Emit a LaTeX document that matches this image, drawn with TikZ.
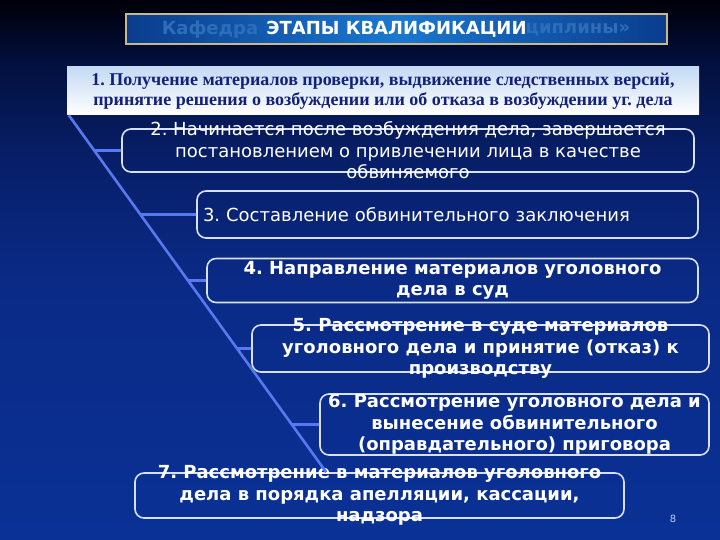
\documentclass[tikz,border=0pt]{standalone}
\usepackage{fontspec}
\setmainfont{DejaVu Sans}
\newfontfamily\headfont{Liberation Serif}
\usetikzlibrary{calc}
\definecolor{BgTop}{HTML}{00000A}
\definecolor{BgDark}{HTML}{03103E}
\definecolor{BgNavy}{HTML}{071E66}
\definecolor{BgMid}{HTML}{0A2A86}
\definecolor{BgLow}{HTML}{0A3196}
\definecolor{TitleGold}{HTML}{C8B88A}
\definecolor{TitleMid}{HTML}{1A78D0}
\definecolor{TitleEdge}{HTML}{0A3C8C}
\definecolor{GhostBlue}{HTML}{2E6EB8}
\definecolor{HeadBlue}{HTML}{C4DAF4}
\definecolor{HeadText}{HTML}{14207A}
\definecolor{BoxLine}{HTML}{D8E0F8}
\definecolor{LinkBlue}{HTML}{5878F0}
\definecolor{PageBlue}{HTML}{B8C8FF}
\pgfdeclareverticalshading{bgfade}{100bp}{color(0bp)=(BgLow); color(25bp)=(BgLow);
  color(49bp)=(BgMid); color(61bp)=(BgNavy); color(69bp)=(BgDark); color(75bp)=(BgTop);
  color(100bp)=(BgTop)}
\frenchspacing

\begin{document}
\begin{tikzpicture}[x=1pt, y=-1pt,
  titlebox/.style={draw=TitleGold, line width=2pt, left color=TitleEdge, right color=TitleEdge,
                   middle color=TitleMid, minimum width=541pt, minimum height=30pt,
                   font=\fontsize{18}{21}\selectfont\bfseries, text=white},
  ghost/.style={font=\fontsize{18}{21}\selectfont\bfseries, text=GhostBlue},
  headbox/.style={top color=HeadBlue, bottom color=white, minimum width=632pt, minimum height=48pt,
                  align=center, font=\headfont\fontsize{18}{20}\selectfont\bfseries, text=HeadText},
  stage/.style={draw=BoxLine, line width=1.6pt, rounded corners=9pt, inner ysep=-30pt, inner xsep=6pt,
                align=center, text=white, font=\fontsize{18}{21.5}\selectfont},
  bold/.style={font=\fontsize{18}{21.5}\selectfont\bfseries},
  link/.style={draw=LinkBlue, line width=2.6pt},
  pnum/.style={font=\fontsize{10}{12}\selectfont, text=PageBlue}
]
  \useasboundingbox (0,0) rectangle (720,540);
  \shade[shading=bgfade] (0,0) rectangle (720,540);

  \node[titlebox] (title) at (396.5,29.5) {ЭТАПЫ КВАЛИФИКАЦИИ};
  \node[ghost] (ghostl) at (210,30) {Кафедра};
  \node[ghost] (ghostr) at (578,30) {циплины»};

  \node[headbox] (s1) at (383,91)
    {1. Получение материалов проверки, выдвижение следственных версий,\\
     принятие решения о возбуждении или об отказа в возбуждении уг. дела};

  \node[stage, minimum width=572pt, minimum height=43pt] (s2) at (408,150.5)
    {2. Начинается после возбуждения дела, завершается\\
     постановлением о привлечении лица в качестве\\
     обвиняемого};
  \node[stage, minimum width=501pt, minimum height=47pt, text width=489pt, align=left] (s3) at (447.5,214.5)
    {3. Составление обвинительного заключения};
  \node[stage, bold, minimum width=491pt, minimum height=44pt] (s4) at (452.5,280.5)
    {4. Направление материалов уголовного\\
     дела в суд};
  \node[stage, bold, minimum width=457pt, minimum height=47pt] (s5) at (480.5,348.5)
    {5. Рассмотрение в суде материалов\\
     уголовного дела и принятие (отказ) к\\
     производству};
  \node[stage, bold, minimum width=389pt, minimum height=61pt] (s6) at (514.5,424.5)
    {6. Рассмотрение уголовного дела и\\
     вынесение обвинительного\\
     (оправдательного) приговора};
  \node[stage, bold, minimum width=489pt, minimum height=45pt] (s7) at (379.5,495.5)
    {7. Рассмотрение в материалов уголовного\\
     дела в порядка апелляции, кассации,\\
     надзора};

  \node[pnum] (page) at (673,519) {8};

  \coordinate (top) at ($(s1.south west)+(2,0)$);
  \coordinate (foot) at ($(s7.north west)+(192,0)$);
  \draw[link] (top) -- (foot);
  \foreach \s in {s2,s3,s4,s5,s6}
    \draw[link] (\s.west) -- (intersection of top--foot and \s.west--\s.east);
\end{tikzpicture}
\end{document}
